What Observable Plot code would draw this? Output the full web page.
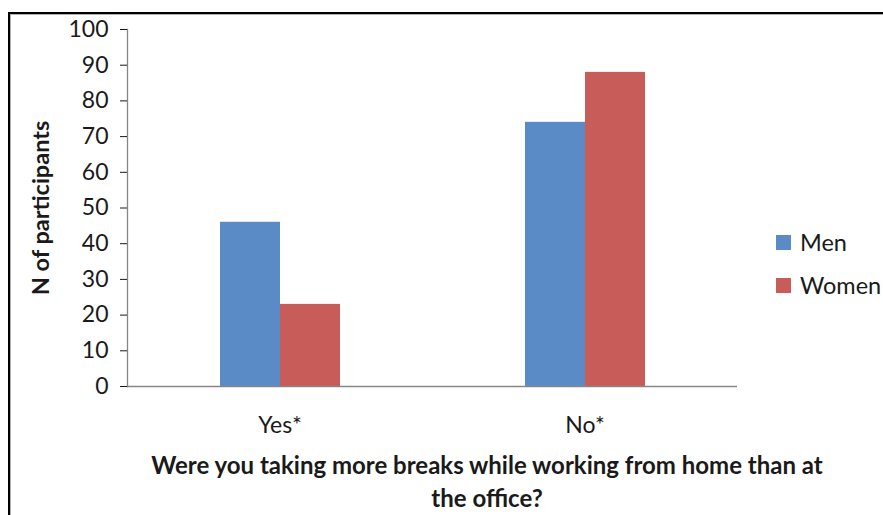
<!DOCTYPE html>
<html>
<head>
<meta charset="utf-8">
<script src="https://cdn.jsdelivr.net/npm/d3@7"></script>
<script src="https://cdn.jsdelivr.net/npm/@observablehq/plot@0.6"></script>
<style>
  body { margin: 0; background: #fff; }
  #wrap { position: relative; width: 883px; height: 515px; overflow: hidden; font-family: Lato, "Open Sans", sans-serif; color: #1a1a1a; }
  #border { position: absolute; left: 8px; top: 12px; width: 1000px; height: 700px;
            border-left: 2px solid #000; border-top: 2px solid #000; box-shadow: inset 1px 1px 0 #b0b0b0; }
  #chart { position: absolute; left: 0; top: 0; }
  #chart [aria-label="y-axis tick"] { stroke: #868686; }
  #ytitle { position: absolute; left: 40px; top: 208px; transform: translate(-50%, -50%) rotate(-90deg);
            font-weight: 700; font-size: 23.5px; white-space: nowrap; }
  #xtitle { position: absolute; left: 487px; top: 448px; transform: translateX(-50%); text-align: center;
            font-weight: 700; font-size: 24px; line-height: 33px; white-space: nowrap; }
  .key { position: absolute; left: 776px; display: flex; align-items: center; font-size: 23.5px; }
  .key span.sw { width: 15px; height: 15px; margin-right: 9px; display: inline-block; }
</style>
</head>
<body>
<div id="wrap">
  <div id="border"></div>
  <div id="chart"></div>
  <div id="ytitle">N of participants</div>
  <div id="xtitle">Were you taking more breaks while working from home than at<br>the office?</div>
</div>
<script>
// Answers to the question, and the two respondent groups
const answers = ["Yes*", "No*"];
const groups = ["Men", "Women"];
const menCounts = [46, 74];
const womenCounts = [23, 88];
const yTicks = [0, 10, 20, 30, 40, 50, 60, 70, 80, 90, 100];
const groupColors = ["#5A8BC6", "#C85C59"];

const rows = answers.flatMap((a, i) => [
  {answer: a, group: groups[0], count: menCounts[i]},
  {answer: a, group: groups[1], count: womenCounts[i]}
]);

const chart = Plot.plot({
  width: 883,
  height: 515,
  marginLeft: 127,
  marginRight: 146,
  marginTop: 29,
  marginBottom: 129,
  style: {fontFamily: "Lato, 'Open Sans', sans-serif", fontSize: "23px", color: "#1a1a1a", background: "transparent"},
  fx: {domain: answers, padding: 0, label: null},
  x: {domain: groups, paddingInner: 0, paddingOuter: 1.52, axis: null},
  y: {domain: [0, 100], label: null},
  color: {domain: groups, range: groupColors},
  marks: [
    Plot.barY(rows, {fx: "answer", x: "group", y: "count", fill: "group"}),
    Plot.ruleY([0], {stroke: "#868686", strokeWidth: 1.3}),
    Plot.frame({anchor: "left", facetAnchor: "left", stroke: "#868686", strokeWidth: 1.3}),
    Plot.axisY(yTicks, {tickSize: 7, tickPadding: 12, label: null, fill: "#1a1a1a", fontSize: 23}),
    Plot.axisFx({anchor: "bottom", tickSize: 0, tickPadding: 30, label: null, fill: "#1a1a1a", fontSize: 23})
  ]
});
document.getElementById("chart").appendChild(chart);

// Legend
const wrap = document.getElementById("wrap");
const legendTops = [243, 286];
groups.forEach((g, i) => {
  const k = document.createElement("div");
  k.className = "key";
  k.style.top = (legendTops[i] - 15) + "px";
  k.innerHTML = `<span class="sw" style="background:${groupColors[i]}"></span>${g}`;
  wrap.appendChild(k);
});
</script>
</body>
</html>
